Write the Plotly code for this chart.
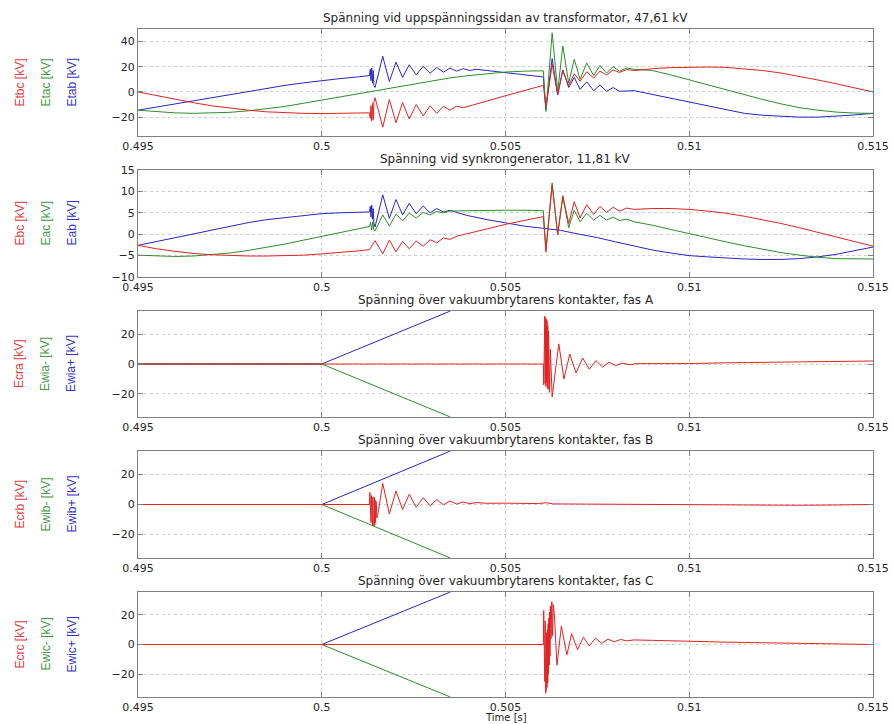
import plotly.graph_objects as go

# ---------------- Panel 1: transformer HV side ----------------
t_etbc = [0.495, 0.4955, 0.496, 0.4965, 0.497, 0.4975, 0.498, 0.4985, 0.499, 0.4995, 0.5, 0.5005, 0.501, 0.5013,
          0.50132, 0.50134, 0.50136, 0.50138, 0.5014, 0.50142, 0.50145, 0.50166, 0.50184, 0.50202, 0.5022, 0.50238,
          0.50257, 0.50276, 0.50295, 0.50313, 0.50331, 0.50349, 0.50367, 0.50385, 0.5041, 0.5045, 0.505, 0.5055,
          0.506, 0.50603, 0.5061, 0.50627, 0.50642, 0.50656, 0.50672, 0.50687, 0.50703, 0.50721, 0.5074, 0.50757,
          0.50775, 0.50793, 0.5081, 0.5083, 0.5085, 0.509, 0.5095, 0.51, 0.5105, 0.511, 0.5115, 0.512, 0.5125,
          0.513, 0.5135, 0.514, 0.5145, 0.515]
etbc = [0, -3, -6, -8.5, -11, -13, -14.5, -15.8, -16.6, -17, -17.2, -17, -16.8, -16.6,
        -21, -11, -23, -9, -22, -8, -4.5, -28, -6, -24.5, -8.5, -21.5,
        -10, -19, -11, -17, -11.4, -14.5, -11.3, -12.5, -10.5, -7, -3, 1,
        4.5, 5.2, -12, 22, -2, 17, 5, 14.5, 8.5, 16, 11, 16.5,
        13.5, 17.5, 15.5, 17.8, 17, 18.5, 19.3, 19.7, 19.8, 19.5, 18.5, 17, 15,
        12.5, 9.5, 6.5, 3.3, 0]

t_etac = [0.495, 0.4955, 0.496, 0.4965, 0.497, 0.4975, 0.498, 0.4985, 0.499, 0.4995, 0.5, 0.5005, 0.501, 0.5015,
          0.502, 0.5025, 0.503, 0.5035, 0.504, 0.5045, 0.505, 0.5055, 0.506, 0.50603, 0.5061, 0.50627, 0.50642,
          0.50656, 0.50672, 0.50687, 0.50703, 0.50721, 0.5074, 0.50757, 0.50775, 0.50793, 0.5081, 0.5083, 0.5085,
          0.509, 0.5095, 0.51, 0.5105, 0.511, 0.5115, 0.512, 0.5125, 0.513, 0.5135, 0.514, 0.5145, 0.515]
etac = [-14.5, -15.8, -16.6, -17, -16.8, -16.2, -15, -13.5, -11.5, -9, -6.5, -4, -1.5, 1,
        3.8, 6.5, 9, 11.2, 13, 14.6, 15.8, 16.5, 16.8, 16.8, -15.5, 47, 0.5,
        36.5, 7, 26, 10, 23, 13, 21, 15, 20, 16.5, 19, 18,
        17, 13.5, 9.5, 6, 2, -2, -6, -9.5, -12.5, -14.5, -16, -16.8, -17]

t_etab = [0.495, 0.4955, 0.496, 0.4965, 0.497, 0.4975, 0.498, 0.4985, 0.499, 0.4995, 0.5, 0.5005, 0.501, 0.5013,
          0.50132, 0.50134, 0.50136, 0.50138, 0.5014, 0.50142, 0.50145, 0.50166, 0.50184, 0.50202, 0.5022,
          0.50238, 0.50257, 0.50276, 0.50295, 0.50313, 0.50331, 0.50349, 0.50367, 0.50385, 0.50403, 0.5042,
          0.5045, 0.505, 0.5055, 0.506, 0.50603, 0.5061, 0.50627, 0.50642, 0.50656, 0.50672, 0.50687, 0.50703,
          0.50721, 0.5074, 0.50757, 0.50775, 0.50793, 0.5081, 0.5085, 0.509, 0.5095, 0.51, 0.5105, 0.511,
          0.5115, 0.512, 0.5125, 0.513, 0.5135, 0.514, 0.5145, 0.515]
etab = [-14.5, -12, -9.5, -7, -4.5, -2, 0.5, 3, 5.2, 7.2, 9, 10.6, 12, 13,
        18, 9, 19, 7, 17, 5, 3.5, 28.3, 8.3, 23.7, 11.5,
        21.6, 13.6, 20.3, 14.9, 19.5, 15.7, 19, 16.5, 18.5, 17, 18,
        17, 15.5, 13.8, 12, 11.8, -14, 26.5, -2.5, 17.5, 3.5, 11.5, 2,
        8, 1, 5.5, 0.5, 3.5, 0.5, 1, -2, -5, -8.5, -11.5, -14.5,
        -17, -18.5, -19.5, -20, -20, -19.3, -18.3, -17]

# ---------------- Panel 2: synchronous generator ----------------
t_ebc = [0.495, 0.4955, 0.496, 0.4965, 0.497, 0.4975, 0.498, 0.4985, 0.499, 0.4995, 0.5, 0.5005, 0.501, 0.5013,
         0.50145, 0.50166, 0.50184, 0.50202, 0.5022, 0.50238, 0.50257, 0.50276, 0.50295, 0.50313, 0.50331,
         0.50349, 0.5037, 0.504, 0.5045, 0.505, 0.5055, 0.506, 0.50603,
         0.5061, 0.50627, 0.50642, 0.50656, 0.50672, 0.50687, 0.50703, 0.50721, 0.5074, 0.50757, 0.50775,
         0.50793, 0.5081, 0.5083,
         0.5085, 0.509, 0.5095, 0.51, 0.5105, 0.511, 0.5115, 0.512, 0.5125, 0.513, 0.5135, 0.514, 0.5145, 0.515]
ebc = [-2.6, -3.4, -4, -4.5, -4.8, -5, -5.1, -5.1, -5, -4.9, -4.6, -4.3, -3.9, -3.6,
       -1.5, -4.6, -1.4, -4.1, -1.7, -3.4, -1.6, -2.8, -1.3, -2.0, -0.9,
       -1.2, -0.4, 0.2, 1.3, 2.3, 3.2, 4.0, 4.1,
       -4.2, 11.5, 0.0, 9.0, 2.5, 7.6, 3.8, 6.9, 4.6, 6.5, 5.1,
       6.3, 5.4, 6.1,
       5.8, 6.0, 6.0, 5.8, 5.4, 4.9, 4.2, 3.4, 2.5, 1.5, 0.4, -0.7, -1.8, -2.8]

t_eac = [0.495, 0.4955, 0.496, 0.4965, 0.497, 0.4975, 0.498, 0.4985, 0.499, 0.4995, 0.5, 0.5005, 0.501, 0.5013,
         0.50133, 0.50136, 0.50139, 0.50142, 0.50145, 0.50166, 0.50184, 0.50202, 0.5022, 0.50238, 0.50257,
         0.50276, 0.50295, 0.50313, 0.50331, 0.5035, 0.504, 0.5045, 0.505, 0.5055, 0.506, 0.50603,
         0.5061, 0.50627, 0.50642, 0.50656, 0.50672, 0.50687, 0.50703, 0.50721, 0.5074, 0.50757, 0.50775,
         0.50793, 0.5081, 0.5083,
         0.5085, 0.509, 0.5095, 0.51, 0.5105, 0.511, 0.5115, 0.512, 0.5125, 0.513, 0.5135, 0.514, 0.5145, 0.515]
eac = [-4.9, -5.1, -5.2, -5.1, -4.8, -4.4, -3.8, -3.1, -2.3, -1.4, -0.5, 0.4, 1.3, 1.8,
       2.8, 1.0, 2.9, 0.9, 0.8, 4.5, 1.9, 4.7, 3.1, 4.9, 3.8,
       5.1, 4.5, 5.3, 5.0, 5.4, 5.5, 5.6, 5.6, 5.6, 5.5, 5.5,
       -3.5, 12.0, -0.2, 8.7, 1.5, 5.6, 2.9, 4.9, 3.3, 4.4, 3.3,
       4.0, 3.2, 3.5,
       2.9, 2.1, 1.1, 0.1, -0.9, -1.8, -2.7, -3.5, -4.3, -4.9, -5.4, -5.7, -5.8, -5.8]

t_eab = [0.495, 0.4955, 0.496, 0.4965, 0.497, 0.4975, 0.498, 0.4985, 0.499, 0.4995, 0.5, 0.5005, 0.501, 0.5013,
         0.50132, 0.50134, 0.50136, 0.50138, 0.5014, 0.50142,
         0.50145, 0.50166, 0.50184, 0.50202, 0.5022, 0.50238, 0.50257, 0.50276, 0.50295, 0.50313, 0.50331,
         0.5035, 0.5037, 0.504, 0.5045, 0.505, 0.5055, 0.506,
         0.5065, 0.507, 0.5075, 0.508, 0.5085, 0.509, 0.5095, 0.51, 0.5105, 0.511, 0.5115, 0.512, 0.5125,
         0.513, 0.5135, 0.514, 0.5145, 0.515]
eab = [-2.6, -1.7, -0.8, 0.1, 1.0, 1.9, 2.7, 3.4, 3.9, 4.4, 4.8, 5.0, 5.2, 5.2,
       6.5, 4.0, 6.8, 3.5, 6.0, 2.5,
       1.7, 9.2, 3.7, 8.1, 4.5, 7.2, 4.8, 6.6, 5.0, 6.0, 5.2,
       5.6, 5.0, 4.3, 3.4, 2.6, 1.9, 1.4,
       0.9, 0.0, -0.8, -1.8, -2.8, -3.7, -4.4, -5.0, -5.3, -5.6, -5.8, -5.9, -5.9,
       -5.7, -5.3, -4.7, -3.9, -3.0]

# ---------------- Panels 3-5: breaker contacts ----------------
t_ecra = [0.495, 0.50603, 0.50604, 0.50605, 0.50606, 0.50607, 0.50608, 0.50609, 0.5061, 0.50611, 0.50612,
          0.50613, 0.50614, 0.50615, 0.50616, 0.50617, 0.50618, 0.50619, 0.5062, 0.50622, 0.50627,
          0.50645, 0.50659, 0.50675, 0.50692, 0.5071, 0.50728, 0.50746, 0.50764, 0.50782, 0.508,
          0.50818, 0.50836, 0.50855, 0.509, 0.51, 0.511, 0.512, 0.513, 0.514, 0.515]
ecra = [0, 0, -14, 30, -10, 32, -13, 31, -15, 30, -12,
        29, -16, 26, -17, 22, -14, 18, -19, 10, -22,
        13.5, -10, 6.7, -6, 4, -3.5, 2.3, -2, 1.2, -1.1,
        0.6, -0.5, 0.2, 0.1, 0.3, 0.8, 1.2, 1.5, 1.8, 2.0]

t_ecrb = [0.495, 0.5013, 0.50131, 0.50132, 0.50133, 0.50134, 0.50135, 0.50136, 0.50137, 0.50138, 0.50139,
          0.5014, 0.50141, 0.50142, 0.50143, 0.50144, 0.50145, 0.50146, 0.50148, 0.5015, 0.50153, 0.50166,
          0.50184, 0.50202, 0.5022, 0.50238, 0.50257, 0.50276, 0.50295, 0.50313, 0.50331, 0.50349, 0.50367,
          0.50385, 0.50403, 0.5042, 0.5045, 0.505, 0.5055, 0.5059, 0.5061, 0.5063, 0.507, 0.508, 0.509,
          0.51, 0.511, 0.512, 0.513, 0.514, 0.515]
ecrb = [0, 0, 8, -11, 7, -12, 6, -13, 6, -14, 5,
        -14, 4, -13, 5, -14, 3, -12, 2, -9, -6, 14,
        -6.3, 9, -3.4, 6.8, -1.8, 4.5, -0.8, 3.2, -0.2, 2.3, 0.3,
        1.7, 0.5, 1.3, 0.8, 0.9, 0.6, 0.6, 1.2, 0.4, 0.3, 0.1, -0.1,
        -0.3, -0.4, -0.5, -0.5, -0.3, 0]

t_ecrc = [0.495, 0.50603, 0.50604, 0.50605, 0.50606, 0.50607, 0.50608, 0.50609, 0.5061, 0.50611, 0.50612,
          0.50613, 0.50614, 0.50615, 0.50616, 0.50617, 0.50618, 0.50619, 0.5062, 0.50621, 0.50622, 0.50624,
          0.50626, 0.50628, 0.5063, 0.50633, 0.5064, 0.50652, 0.50667, 0.5068, 0.50696, 0.50712, 0.50728,
          0.50745, 0.50762, 0.50779, 0.50796, 0.50813, 0.5083, 0.5085, 0.509, 0.51, 0.511, 0.512, 0.513,
          0.514, 0.515]
ecrc = [0, 0, 23, -18, 20, -25, 16, -33, 12, -31, 8,
        -29, 10, -26, 14, -20, 18, -14, 22, -8, 26, 4,
        29, 6, 27, 20, -14, 12.5, -7, 7.3, -3.5, 5, -1,
        4.2, 0.8, 3.6, 1.8, 3.4, 2.5, 3.1, 2.8, 2.0, 1.6, 1.2, 0.8,
        0.4, 0]

t_ew = [0.495, 0.5, 0.5035]
ewia_p = [0, 0, 35.5]
ewia_m = [0, 0, -35.5]
ewib_p = [0, 0, 35.5]
ewib_m = [0, 0, -35.5]
ewic_p = [0, 0, 35.5]
ewic_m = [0, 0, -35.5]

x_ticks = [0.495, 0.5, 0.505, 0.51, 0.515]
x_tick_labels = ["0.495", "0.5", "0.505", "0.51", "0.515"]

RED = "#e32222"
GREEN = "#2a8f2a"
BLUE = "#2626c8"
LBL_RED = "#e03a3a"
LBL_GREEN = "#3f9a3f"
LBL_BLUE = "#3434c4"

panels = [
    dict(title="Spänning vid uppspänningssidan av transformator, 47,61 kV",
         labels=["Etbc [kV]", "Etac [kV]", "Etab [kV]"],
         series=[(t_etab, etab, BLUE), (t_etac, etac, GREEN), (t_etbc, etbc, RED)],
         yrange=[-35, 50], yticks=[-20, 0, 20, 40], top=29, bottom=136),
    dict(title="Spänning vid synkrongenerator, 11,81 kV",
         labels=["Ebc [kV]", "Eac [kV]", "Eab [kV]"],
         series=[(t_eab, eab, BLUE), (t_eac, eac, GREEN), (t_ebc, ebc, RED)],
         yrange=[-10, 15], yticks=[-10, -5, 0, 5, 10, 15], top=170, bottom=277),
    dict(title="Spänning över vakuumbrytarens kontakter, fas A",
         labels=["Ecra [kV]", "Ewia- [kV]", "Ewia+ [kV]"],
         series=[(t_ew, ewia_p, BLUE), (t_ew, ewia_m, GREEN), (t_ecra, ecra, RED)],
         yrange=[-35.5, 35.5], yticks=[-20, 0, 20], top=311, bottom=417),
    dict(title="Spänning över vakuumbrytarens kontakter, fas B",
         labels=["Ecrb [kV]", "Ewib- [kV]", "Ewib+ [kV]"],
         series=[(t_ew, ewib_p, BLUE), (t_ew, ewib_m, GREEN), (t_ecrb, ecrb, RED)],
         yrange=[-35.5, 35.5], yticks=[-20, 0, 20], top=451, bottom=558),
    dict(title="Spänning över vakuumbrytarens kontakter, fas C",
         labels=["Ecrc [kV]", "Ewic- [kV]", "Ewic+ [kV]"],
         series=[(t_ew, ewic_p, BLUE), (t_ew, ewic_m, GREEN), (t_ecrc, ecrc, RED)],
         yrange=[-35.5, 35.5], yticks=[-20, 0, 20], top=592, bottom=697),
]

W, H = 893, 724
ML, MR, MT, MB = 138, 20, 29, 25
PH = H - MT - MB
PW = W - ML - MR


def py(px):
    return (H - MB - px) / PH


def pxx(px):
    return (px - ML) / PW


fig = go.Figure()
annotations = []
TICK_FONT = dict(family="DejaVu Sans, Arial, sans-serif", size=11, color="#262626")
AX_COL = "#808080"

for i, p in enumerate(panels):
    n = i + 1
    sfx = "" if n == 1 else str(n)
    for tt, vv, col in p["series"]:
        if len(tt) != len(vv):
            print("length mismatch", n, len(tt), len(vv))
        fig.add_trace(go.Scatter(x=tt, y=vv, mode="lines", line=dict(color=col, width=1),
                                 xaxis="x" + sfx, yaxis="y" + sfx, showlegend=False, hoverinfo="skip"))
    dom = [py(p["bottom"]), py(p["top"])]
    fig.update_layout(**{
        "xaxis" + sfx: dict(domain=[0, 1], anchor="y" + sfx, range=[0.495, 0.515],
                            tickvals=x_ticks, ticktext=x_tick_labels, ticks="inside", ticklen=5,
                            tickcolor=AX_COL, showline=True, linecolor=AX_COL, linewidth=1, mirror="allticks",
                            showgrid=True, gridcolor="#cfcfcf", griddash="dot", gridwidth=1, zeroline=False,
                            tickfont=TICK_FONT, fixedrange=True),
        "yaxis" + sfx: dict(domain=dom, anchor="x" + sfx, range=p["yrange"], tickvals=p["yticks"],
                            ticks="inside", ticklen=5, tickcolor=AX_COL, showline=True, linecolor=AX_COL,
                            linewidth=1, mirror="allticks", showgrid=True, gridcolor="#cfcfcf",
                            griddash="dot", gridwidth=1, zeroline=False, tickfont=TICK_FONT, fixedrange=True),
    })
    annotations.append(dict(text=p["title"], xref="paper", yref="paper", x=0.5, y=py(p["top"] - 11),
                            xanchor="center", yanchor="middle", showarrow=False,
                            font=dict(family="DejaVu Sans, Arial, sans-serif", size=12, color="#262626")))
    yc = py((p["top"] + p["bottom"]) / 2)
    for lbl, col, xpx in zip(p["labels"], [LBL_RED, LBL_GREEN, LBL_BLUE], [19, 45, 71]):
        annotations.append(dict(text=lbl, xref="paper", yref="paper", x=pxx(xpx), y=yc,
                                xanchor="center", yanchor="middle", textangle=-90, showarrow=False,
                                font=dict(family="Liberation Sans Narrow, Arial Narrow, Arial, sans-serif",
                                          size=12, color=col)))

annotations.append(dict(text="Time [s]", xref="paper", yref="paper", x=0.5, y=py(717.5),
                        xanchor="center", yanchor="middle", showarrow=False,
                        font=dict(family="DejaVu Sans, Arial, sans-serif", size=10, color="#262626")))

fig.update_layout(width=W, height=H, margin=dict(l=ML, r=MR, t=MT, b=MB, autoexpand=False),
                  paper_bgcolor="white", plot_bgcolor="white", annotations=annotations, showlegend=False)

fig.write_html("out.html", config={"displayModeBar": False},
               post_script="document.body.style.margin='0';document.body.style.overflow='hidden';")
